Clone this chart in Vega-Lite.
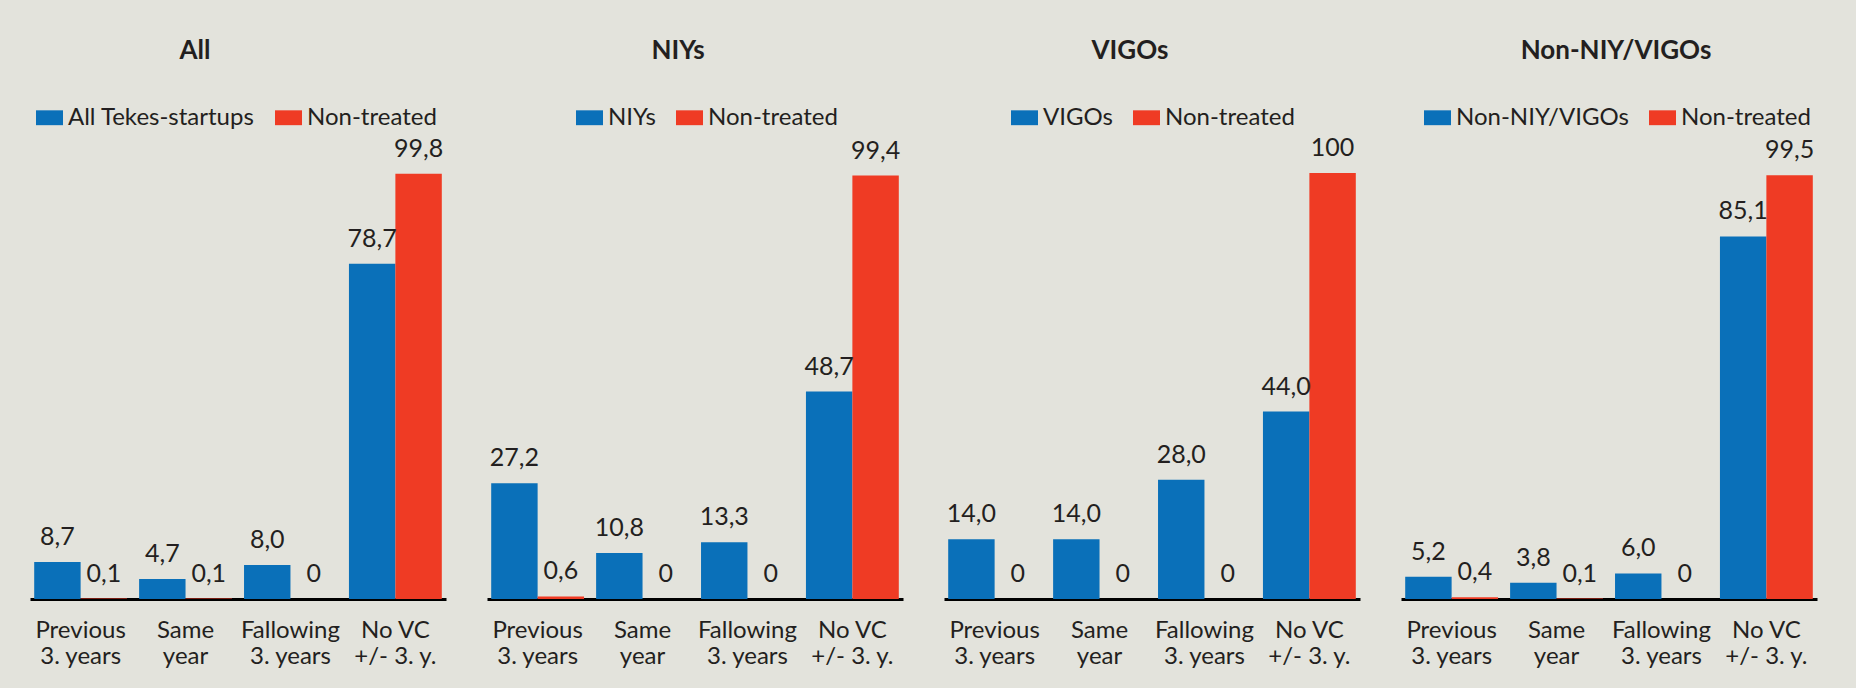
{
  "$schema": "https://vega.github.io/schema/vega-lite/v6.json",
  "background": "#e3e3dc",
  "padding": {"left": 30, "top": 38, "right": 40, "bottom": 21},
  "autosize": {"type": "pad"},
  "spacing": 41,
  "config": {
    "view": {"stroke": null},
    "font": "Lato",
    "title": {"font": "Lato", "fontSize": 26, "fontWeight": "bold", "color": "#231f20", "anchor": "middle", "baseline": "alphabetic", "offset": 40},
    "axisX": {"domainColor": "#000000", "domainWidth": 3, "ticks": false, "labelAngle": 0, "labelFont": "Lato", "labelFontSize": 24, "labelColor": "#231f20", "labelPadding": 19, "labelLineHeight": 26, "labelBaseline": "top", "title": null, "labelExpr": "split(datum.label, '|')"},
    "legend": {"orient": "none", "direction": "horizontal", "title": null, "labelFont": "Lato", "labelFontSize": 24, "labelColor": "#231f20", "labelLimit": 0, "symbolType": "M-1,-0.55H1V0.55H-1Z", "symbolSize": 729, "symbolStrokeWidth": 0, "symbolOpacity": 1, "columnPadding": 20, "labelOffset": 5, "padding": 0, "legendY": -69}
  },
  "datasets": {
    "d": [
      {"panel": "All", "cat": "Previous|3. years", "series": "All Tekes-startups", "value": 8.7, "label": "8,7"},
      {"panel": "All", "cat": "Previous|3. years", "series": "Non-treated", "value": 0.1, "label": "0,1"},
      {"panel": "All", "cat": "Same|year", "series": "All Tekes-startups", "value": 4.7, "label": "4,7"},
      {"panel": "All", "cat": "Same|year", "series": "Non-treated", "value": 0.1, "label": "0,1"},
      {"panel": "All", "cat": "Fallowing|3. years", "series": "All Tekes-startups", "value": 8.0, "label": "8,0"},
      {"panel": "All", "cat": "Fallowing|3. years", "series": "Non-treated", "value": 0, "label": "0"},
      {"panel": "All", "cat": "No VC|+/- 3. y.", "series": "All Tekes-startups", "value": 78.7, "label": "78,7"},
      {"panel": "All", "cat": "No VC|+/- 3. y.", "series": "Non-treated", "value": 99.8, "label": "99,8"},
      {"panel": "NIYs", "cat": "Previous|3. years", "series": "NIYs", "value": 27.2, "label": "27,2"},
      {"panel": "NIYs", "cat": "Previous|3. years", "series": "Non-treated", "value": 0.6, "label": "0,6"},
      {"panel": "NIYs", "cat": "Same|year", "series": "NIYs", "value": 10.8, "label": "10,8"},
      {"panel": "NIYs", "cat": "Same|year", "series": "Non-treated", "value": 0, "label": "0"},
      {"panel": "NIYs", "cat": "Fallowing|3. years", "series": "NIYs", "value": 13.3, "label": "13,3"},
      {"panel": "NIYs", "cat": "Fallowing|3. years", "series": "Non-treated", "value": 0, "label": "0"},
      {"panel": "NIYs", "cat": "No VC|+/- 3. y.", "series": "NIYs", "value": 48.7, "label": "48,7"},
      {"panel": "NIYs", "cat": "No VC|+/- 3. y.", "series": "Non-treated", "value": 99.4, "label": "99,4"},
      {"panel": "VIGOs", "cat": "Previous|3. years", "series": "VIGOs", "value": 14.0, "label": "14,0"},
      {"panel": "VIGOs", "cat": "Previous|3. years", "series": "Non-treated", "value": 0, "label": "0"},
      {"panel": "VIGOs", "cat": "Same|year", "series": "VIGOs", "value": 14.0, "label": "14,0"},
      {"panel": "VIGOs", "cat": "Same|year", "series": "Non-treated", "value": 0, "label": "0"},
      {"panel": "VIGOs", "cat": "Fallowing|3. years", "series": "VIGOs", "value": 28.0, "label": "28,0"},
      {"panel": "VIGOs", "cat": "Fallowing|3. years", "series": "Non-treated", "value": 0, "label": "0"},
      {"panel": "VIGOs", "cat": "No VC|+/- 3. y.", "series": "VIGOs", "value": 44.0, "label": "44,0"},
      {"panel": "VIGOs", "cat": "No VC|+/- 3. y.", "series": "Non-treated", "value": 100, "label": "100"},
      {"panel": "Non-NIY/VIGOs", "cat": "Previous|3. years", "series": "Non-NIY/VIGOs", "value": 5.2, "label": "5,2"},
      {"panel": "Non-NIY/VIGOs", "cat": "Previous|3. years", "series": "Non-treated", "value": 0.4, "label": "0,4"},
      {"panel": "Non-NIY/VIGOs", "cat": "Same|year", "series": "Non-NIY/VIGOs", "value": 3.8, "label": "3,8"},
      {"panel": "Non-NIY/VIGOs", "cat": "Same|year", "series": "Non-treated", "value": 0.1, "label": "0,1"},
      {"panel": "Non-NIY/VIGOs", "cat": "Fallowing|3. years", "series": "Non-NIY/VIGOs", "value": 6.0, "label": "6,0"},
      {"panel": "Non-NIY/VIGOs", "cat": "Fallowing|3. years", "series": "Non-treated", "value": 0, "label": "0"},
      {"panel": "Non-NIY/VIGOs", "cat": "No VC|+/- 3. y.", "series": "Non-NIY/VIGOs", "value": 85.1, "label": "85,1"},
      {"panel": "Non-NIY/VIGOs", "cat": "No VC|+/- 3. y.", "series": "Non-treated", "value": 99.5, "label": "99,5"}
    ]
  },
  "resolve": {"scale": {"color": "independent", "xOffset": "independent"}, "legend": {"color": "independent"}},
  "hconcat": [
    {
      "width": 416, "height": 426,
      "data": {"name": "d"},
      "title": {"text": "All", "dx": -43},
      "transform": [{"filter": "datum.panel === 'All'"}],
      "encoding": {
        "x": {"field": "cat", "type": "nominal", "sort": ["Previous|3. years", "Same|year", "Fallowing|3. years", "No VC|+/- 3. y."], "scale": {"paddingInner": 0.115, "paddingOuter": 0.04}},
        "xOffset": {"field": "series", "type": "nominal", "sort": ["All Tekes-startups", "Non-treated"]},
        "y": {"field": "value", "type": "quantitative", "scale": {"domain": [0, 100]}, "axis": null}
      },
      "layer": [
        {"mark": {"type": "bar"}, "encoding": {"color": {"field": "series", "type": "nominal", "scale": {"domain": ["All Tekes-startups", "Non-treated"], "range": ["#0a70b9", "#ef3b24"]}, "legend": {"legendX": 6}}}},
        {"mark": {"type": "text", "baseline": "alphabetic", "dy": -17, "fontSize": 25, "font": "Lato", "color": "#231f20"}, "encoding": {"text": {"field": "label"}}}
      ]
    },
    {
      "width": 416, "height": 426,
      "data": {"name": "d"},
      "title": {"text": "NIYs", "dx": -17},
      "transform": [{"filter": "datum.panel === 'NIYs'"}],
      "encoding": {
        "x": {"field": "cat", "type": "nominal", "sort": ["Previous|3. years", "Same|year", "Fallowing|3. years", "No VC|+/- 3. y."], "scale": {"paddingInner": 0.115, "paddingOuter": 0.04}},
        "xOffset": {"field": "series", "type": "nominal", "sort": ["NIYs", "Non-treated"]},
        "y": {"field": "value", "type": "quantitative", "scale": {"domain": [0, 100]}, "axis": null}
      },
      "layer": [
        {"mark": {"type": "bar"}, "encoding": {"color": {"field": "series", "type": "nominal", "scale": {"domain": ["NIYs", "Non-treated"], "range": ["#0a70b9", "#ef3b24"]}, "legend": {"legendX": 89}}}},
        {"mark": {"type": "text", "baseline": "alphabetic", "dy": -17, "fontSize": 25, "font": "Lato", "color": "#231f20"}, "encoding": {"text": {"field": "label"}}}
      ]
    },
    {
      "width": 416, "height": 426,
      "data": {"name": "d"},
      "title": {"text": "VIGOs", "dx": -22},
      "transform": [{"filter": "datum.panel === 'VIGOs'"}],
      "encoding": {
        "x": {"field": "cat", "type": "nominal", "sort": ["Previous|3. years", "Same|year", "Fallowing|3. years", "No VC|+/- 3. y."], "scale": {"paddingInner": 0.115, "paddingOuter": 0.04}},
        "xOffset": {"field": "series", "type": "nominal", "sort": ["VIGOs", "Non-treated"]},
        "y": {"field": "value", "type": "quantitative", "scale": {"domain": [0, 100]}, "axis": null}
      },
      "layer": [
        {"mark": {"type": "bar"}, "encoding": {"color": {"field": "series", "type": "nominal", "scale": {"domain": ["VIGOs", "Non-treated"], "range": ["#0a70b9", "#ef3b24"]}, "legend": {"legendX": 67}}}},
        {"mark": {"type": "text", "baseline": "alphabetic", "dy": -17, "fontSize": 25, "font": "Lato", "color": "#231f20"}, "encoding": {"text": {"field": "label"}}}
      ]
    },
    {
      "width": 416, "height": 426,
      "data": {"name": "d"},
      "title": {"text": "Non-NIY/VIGOs", "dx": 7},
      "transform": [{"filter": "datum.panel === 'Non-NIY/VIGOs'"}],
      "encoding": {
        "x": {"field": "cat", "type": "nominal", "sort": ["Previous|3. years", "Same|year", "Fallowing|3. years", "No VC|+/- 3. y."], "scale": {"paddingInner": 0.115, "paddingOuter": 0.04}},
        "xOffset": {"field": "series", "type": "nominal", "sort": ["Non-NIY/VIGOs", "Non-treated"]},
        "y": {"field": "value", "type": "quantitative", "scale": {"domain": [0, 100]}, "axis": null}
      },
      "layer": [
        {"mark": {"type": "bar"}, "encoding": {"color": {"field": "series", "type": "nominal", "scale": {"domain": ["Non-NIY/VIGOs", "Non-treated"], "range": ["#0a70b9", "#ef3b24"]}, "legend": {"legendX": 23}}}},
        {"mark": {"type": "text", "baseline": "alphabetic", "dy": -17, "fontSize": 25, "font": "Lato", "color": "#231f20"}, "encoding": {"text": {"field": "label"}}}
      ]
    }
  ]
}
